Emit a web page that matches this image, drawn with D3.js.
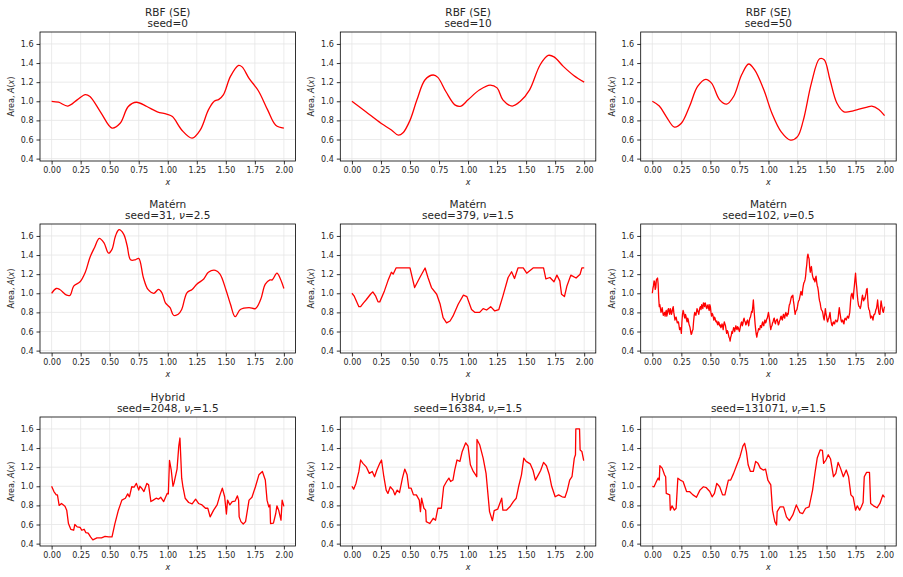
<!DOCTYPE html>
<html>
<head>
<meta charset="utf-8">
<script src="https://cdn.jsdelivr.net/npm/d3@7"></script>
<style>
  body { margin: 0; background: #fff; }
  svg { font-family: "DejaVu Sans", sans-serif; }
</style>
</head>
<body>
<div id="wrapper"></div>
<script>
// ---- values ----
const xTicks = [0, 0.25, 0.5, 0.75, 1.0, 1.25, 1.5, 1.75, 2.0];
const yTicks = [0.4, 0.6, 0.8, 1.0, 1.2, 1.4, 1.6];

const rbfSeed0 = [[0,1.0],[0.06,0.99],[0.14,0.95],[0.22,1.015],[0.29,1.07],[0.33,1.05],[0.42,0.89],
  [0.52,0.72],[0.59,0.77],[0.66,0.945],[0.73,0.99],[0.82,0.945],[0.91,0.89],[0.99,0.865],[1.04,0.84],
  [1.12,0.70],[1.21,0.615],[1.28,0.70],[1.35,0.91],[1.40,1.0],[1.44,1.02],[1.48,1.07],[1.54,1.26],
  [1.61,1.375],[1.64,1.36],[1.70,1.24],[1.78,1.11],[1.86,0.91],[1.93,0.75],[2.0,0.72]];

const rbfSeed10 = [[0,1.0],[0.12,0.89],[0.25,0.77],[0.34,0.70],[0.40,0.645],[0.44,0.67],[0.50,0.80],
  [0.56,1.015],[0.63,1.225],[0.70,1.275],[0.74,1.25],[0.81,1.10],[0.89,0.96],[0.94,0.95],[1.0,1.015],
  [1.10,1.12],[1.19,1.17],[1.25,1.14],[1.30,1.015],[1.38,0.95],[1.45,1.0],[1.53,1.12],[1.62,1.38],
  [1.69,1.48],[1.74,1.465],[1.82,1.365],[1.91,1.27],[2.0,1.2]];

const rbfSeed50 = [[0,1.0],[0.06,0.95],[0.12,0.84],[0.19,0.73],[0.25,0.77],[0.32,0.945],[0.39,1.155],
  [0.46,1.23],[0.51,1.19],[0.58,1.015],[0.64,0.97],[0.70,1.05],[0.77,1.28],[0.83,1.39],[0.88,1.33],
  [0.96,1.12],[1.03,0.875],[1.11,0.68],[1.19,0.593],[1.25,0.63],[1.30,0.80],[1.37,1.19],[1.44,1.445],
  [1.48,1.435],[1.53,1.225],[1.59,0.98],[1.65,0.89],[1.73,0.90],[1.85,0.94],[1.89,0.95],[1.95,0.915],[2.0,0.85]];

const maternSeed31 = [[0,1.0],[0.04,1.05],[0.07,1.04],[0.13,0.98],[0.16,0.98],[0.19,1.075],[0.245,1.12],
  [0.29,1.22],[0.33,1.375],[0.37,1.48],[0.41,1.575],[0.45,1.53],[0.49,1.42],[0.52,1.46],[0.55,1.60],
  [0.58,1.665],[0.62,1.62],[0.65,1.50],[0.68,1.35],[0.72,1.35],[0.75,1.365],[0.79,1.165],[0.83,1.04],
  [0.88,1.0],[0.92,1.04],[0.95,1.005],[0.98,0.90],[1.02,0.85],[1.05,0.77],[1.09,0.78],[1.12,0.83],
  [1.165,1.005],[1.21,1.04],[1.25,1.095],[1.31,1.15],[1.35,1.22],[1.41,1.24],[1.45,1.20],[1.50,1.04],
  [1.54,0.885],[1.58,0.755],[1.625,0.83],[1.70,0.85],[1.755,0.84],[1.80,0.935],[1.84,1.095],[1.88,1.14],
  [1.90,1.14],[1.94,1.21],[1.97,1.15],[2.0,1.05]];

const maternSeed379 = [[0,1.0],[0.02,0.97],[0.06,0.86],[0.075,0.86],[0.10,0.90],[0.125,0.935],[0.16,0.99],
  [0.18,1.015],[0.205,0.97],[0.225,0.91],[0.24,0.91],[0.28,1.025],[0.31,1.13],[0.34,1.22],[0.355,1.20],
  [0.38,1.265],[0.50,1.265],[0.54,1.06],[0.585,1.165],[0.63,1.265],[0.655,1.165],[0.685,1.06],[0.73,0.99],
  [0.76,0.885],[0.785,0.745],[0.815,0.69],[0.845,0.71],[0.87,0.76],[0.915,0.885],[0.96,0.98],[0.99,0.965],
  [1.03,0.83],[1.06,0.80],[1.10,0.80],[1.13,0.84],[1.16,0.825],[1.195,0.86],[1.23,0.815],[1.265,0.83],
  [1.30,0.97],[1.345,1.165],[1.375,1.225],[1.40,1.155],[1.43,1.265],[1.475,1.265],[1.505,1.21],
  [1.55,1.255],[1.56,1.265],[1.65,1.265],[1.67,1.15],[1.705,1.165],[1.74,1.12],[1.765,1.19],[1.79,1.13],
  [1.805,0.99],[1.83,0.965],[1.85,1.07],[1.885,1.19],[1.93,1.16],[1.965,1.20],[1.98,1.265],[2.0,1.265]];

// seed=102, nu=0.5: values every 0.01 from 0 to 2
const maternSeed102 = [
  1.00,1.08,1.12,1.06,1.15,1.10,0.86,0.84,0.82,0.80,0.79,
  0.76,0.82,0.79,0.84,0.78,0.82,0.80,0.86,0.76,0.74,
  0.72,0.70,0.66,0.64,0.58,0.78,0.80,0.74,0.76,0.70,
  0.72,0.66,0.60,0.58,0.62,0.76,0.79,0.80,0.82,0.78,
  0.85,0.83,0.86,0.90,0.86,0.88,0.84,0.88,0.82,0.86,
  0.76,0.78,0.72,0.74,0.70,0.68,0.70,0.66,0.64,0.68,
  0.62,0.70,0.66,0.58,0.60,0.54,0.50,0.56,0.58,0.64,
  0.60,0.66,0.62,0.64,0.60,0.66,0.70,0.68,0.74,0.70,
  0.68,0.72,0.66,0.74,0.78,0.80,0.93,0.76,0.62,0.54,
  0.60,0.62,0.66,0.64,0.70,0.66,0.72,0.70,0.74,0.80,
  0.72,0.62,0.66,0.70,0.74,0.68,0.72,0.70,0.68,0.72,
  0.76,0.72,0.78,0.74,0.80,0.76,0.78,0.88,0.92,0.97,
  0.98,0.88,0.78,0.82,0.86,0.92,0.96,1.02,0.98,1.08,
  1.12,1.18,1.30,1.41,1.36,1.22,1.28,1.18,1.14,1.12,
  1.18,1.08,1.02,0.92,0.86,0.82,0.78,0.72,0.84,0.76,
  0.70,0.74,0.80,0.70,0.66,0.70,0.68,0.72,0.70,0.74,
  0.85,0.76,0.70,0.72,0.68,0.74,0.72,0.76,0.74,0.80,
  0.96,1.00,0.94,1.08,1.21,1.06,0.92,0.86,0.84,0.90,
  0.98,0.92,0.94,1.00,1.05,0.86,0.82,0.74,0.76,0.72,
  0.78,0.80,0.84,0.93,0.80,0.78,0.92,0.84,0.80,0.86];
// seed=102, nu=0.5: values at the half steps 0.005, 0.015, ... 1.995
const maternSeed102Mid = [
  1.05,1.13,1.04,1.14,1.16,0.95,0.88,0.80,0.85,0.77,
  0.80,0.80,0.76,0.83,0.80,0.84,0.78,0.84,0.80,0.72,
  0.75,0.69,0.70,0.62,0.63,0.70,0.82,0.76,0.78,0.72,
  0.74,0.68,0.64,0.57,0.61,0.70,0.80,0.77,0.84,0.80,
  0.82,0.86,0.88,0.84,0.89,0.90,0.85,0.87,0.84,0.88,
  0.80,0.79,0.75,0.75,0.71,0.71,0.67,0.69,0.67,0.65,
  0.66,0.67,0.68,0.62,0.61,0.57,0.53,0.54,0.60,0.61,
  0.63,0.64,0.63,0.65,0.62,0.63,0.69,0.66,0.72,0.71,
  0.67,0.71,0.69,0.71,0.75,0.81,0.86,0.84,0.68,0.57,
  0.58,0.63,0.62,0.66,0.68,0.67,0.70,0.69,0.73,0.77,
  0.76,0.66,0.65,0.69,0.73,0.70,0.71,0.73,0.67,0.71,
  0.75,0.73,0.76,0.75,0.78,0.77,0.79,0.84,0.89,0.95,
  0.96,0.92,0.82,0.81,0.83,0.90,0.93,0.99,0.99,1.04,
  1.11,1.14,1.25,1.38,1.38,1.27,1.26,1.22,1.16,1.15,
  1.16,1.12,1.06,0.96,0.90,0.83,0.81,0.74,0.78,0.79,
  0.72,0.73,0.77,0.74,0.67,0.69,0.68,0.71,0.71,0.71,
  0.80,0.80,0.72,0.72,0.69,0.72,0.73,0.74,0.75,0.77,
  0.88,0.99,0.96,1.02,1.15,1.12,0.98,0.88,0.86,0.86,
  0.95,0.94,0.95,0.97,1.04,0.94,0.83,0.78,0.76,0.74,
  0.76,0.78,0.83,0.88,0.86,0.78,0.86,0.88,0.81,0.84];

const hybridSeed2048 = [[0,1.0],[0.02,0.945],[0.04,0.91],[0.05,0.91],[0.065,0.80],[0.085,0.82],[0.115,0.79],
  [0.13,0.75],[0.145,0.61],[0.165,0.55],[0.19,0.54],[0.20,0.60],[0.22,0.575],[0.245,0.57],[0.26,0.54],
  [0.28,0.55],[0.295,0.515],[0.315,0.51],[0.335,0.47],[0.355,0.44],[0.39,0.46],[0.43,0.46],[0.46,0.475],
  [0.49,0.47],[0.52,0.47],[0.545,0.61],[0.575,0.75],[0.605,0.855],[0.635,0.875],[0.655,0.92],[0.67,0.89],
  [0.69,0.995],[0.71,0.99],[0.73,1.03],[0.75,0.96],[0.76,1.0],[0.775,0.98],[0.795,0.945],[0.82,1.03],
  [0.835,1.015],[0.855,0.84],[0.875,0.855],[0.90,0.875],[0.92,0.865],[0.94,0.885],[0.965,0.84],
  [0.995,0.925],[1.005,0.92],[1.015,1.27],[1.03,1.17],[1.045,1.0],[1.055,1.04],[1.08,1.18],[1.095,1.42],
  [1.105,1.505],[1.12,1.085],[1.13,1.0],[1.15,0.875],[1.18,0.83],[1.21,0.815],[1.24,0.865],[1.265,0.82],
  [1.295,0.805],[1.325,0.77],[1.345,0.77],[1.365,0.68],[1.395,0.75],[1.425,0.805],[1.45,0.91],[1.47,0.98],
  [1.49,0.89],[1.505,0.71],[1.515,0.855],[1.535,0.805],[1.555,0.84],[1.58,0.845],[1.60,0.9],[1.61,0.855],
  [1.615,0.68],[1.63,0.63],[1.65,0.605],[1.67,0.63],[1.70,0.855],[1.725,0.885],[1.755,0.995],[1.785,1.12],
  [1.815,1.155],[1.84,1.065],[1.855,0.855],[1.87,0.785],[1.88,0.805],[1.885,0.61],[1.91,0.615],[1.93,0.715],
  [1.94,0.795],[1.955,0.75],[1.975,0.645],[1.985,0.855],[2.0,0.79]];

const hybridSeed16384 = [[0,1.0],[0.015,0.97],[0.035,1.03],[0.06,1.155],[0.075,1.275],[0.095,1.24],[0.125,1.2],
  [0.15,1.135],[0.175,1.155],[0.195,1.10],[0.215,1.17],[0.24,1.24],[0.255,1.275],[0.275,1.10],[0.295,0.96],
  [0.31,0.925],[0.33,0.995],[0.355,0.96],[0.37,0.91],[0.39,0.96],[0.41,0.935],[0.435,1.085],[0.455,1.18],
  [0.475,1.12],[0.49,0.98],[0.51,0.98],[0.53,0.91],[0.555,0.91],[0.58,0.855],[0.59,0.735],[0.60,0.875],
  [0.62,0.77],[0.635,0.75],[0.64,0.63],[0.67,0.61],[0.70,0.665],[0.72,0.645],[0.74,0.77],[0.77,0.77],
  [0.79,0.995],[0.815,1.05],[0.835,1.085],[0.85,1.05],[0.87,1.065],[0.885,1.17],[0.905,1.275],[0.93,1.26],
  [0.95,1.365],[0.98,1.455],[1.0,1.42],[1.02,1.225],[1.045,1.155],[1.065,1.12],[1.075,1.10],[1.077,1.49],
  [1.10,1.435],[1.13,1.295],[1.155,1.135],[1.185,0.735],[1.21,0.64],[1.225,0.745],[1.255,0.76],[1.29,0.875],
  [1.30,0.75],[1.33,0.75],[1.36,0.785],[1.39,0.84],[1.415,0.875],[1.435,0.995],[1.46,1.12],[1.48,1.295],
  [1.50,1.26],[1.535,1.235],[1.56,1.165],[1.58,1.065],[1.605,1.12],[1.625,1.165],[1.65,1.25],[1.675,1.215],
  [1.70,1.12],[1.72,1.0],[1.75,0.89],[1.78,0.91],[1.81,0.89],[1.835,0.885],[1.855,0.96],[1.875,1.065],
  [1.895,1.10],[1.915,1.295],[1.925,1.33],[1.928,1.6],[1.96,1.6],[1.965,1.38],[1.98,1.365],[1.995,1.275],[2.0,1.275]];

const hybridSeed131071 = [[0,1.0],[0.015,0.995],[0.035,1.05],[0.05,1.085],[0.06,1.065],[0.065,1.215],[0.085,1.19],
  [0.105,1.12],[0.115,1.10],[0.12,0.925],[0.15,0.91],[0.155,0.75],[0.17,0.795],[0.19,0.75],[0.205,0.77],
  [0.22,1.085],[0.24,1.065],[0.265,1.05],[0.295,0.945],[0.32,0.945],[0.35,0.91],[0.38,0.885],[0.41,0.96],
  [0.44,0.995],[0.465,0.985],[0.495,0.945],[0.515,0.89],[0.535,0.925],[0.555,1.03],[0.58,0.995],[0.605,0.91],
  [0.625,0.91],[0.655,1.065],[0.675,1.065],[0.70,1.135],[0.725,1.215],[0.755,1.31],[0.78,1.42],[0.795,1.45],
  [0.81,1.365],[0.825,1.225],[0.845,1.155],[0.87,1.155],[0.89,1.26],[0.91,1.24],[0.93,1.19],[0.955,1.17],
  [0.975,1.18],[0.995,1.065],[1.02,1.015],[1.035,0.75],[1.055,0.63],[1.07,0.595],[1.075,0.735],[1.10,0.785],
  [1.13,0.785],[1.155,0.68],[1.18,0.64],[1.21,0.70],[1.24,0.805],[1.27,0.725],[1.295,0.715],[1.32,0.77],
  [1.35,0.785],[1.38,0.96],[1.40,1.135],[1.42,1.295],[1.445,1.38],[1.465,1.375],[1.475,1.24],[1.495,1.275],
  [1.515,1.33],[1.535,1.285],[1.56,1.1],[1.58,1.135],[1.60,1.25],[1.62,1.19],[1.645,1.10],[1.67,1.17],
  [1.69,1.10],[1.71,0.91],[1.73,0.885],[1.75,0.75],[1.765,0.795],[1.785,0.75],[1.80,0.785],[1.815,0.83],
  [1.825,1.10],[1.845,1.145],[1.87,1.145],[1.88,0.82],[1.905,0.795],[1.935,0.775],[1.96,0.82],[1.985,0.91],[2.0,0.885]];

// merge whole and half steps of the rough Matérn series into [x, y] pairs
const matern102Pairs = [];
maternSeed102.forEach((v, i) => {
  matern102Pairs.push([i * 0.01, v]);
  if (i < maternSeed102Mid.length) matern102Pairs.push([i * 0.01 + 0.005, maternSeed102Mid[i]]);
});

// ---- panels ----
const panels = [
  { kernel: 'RBF (SE)', seed: '0', nu: null, data: rbfSeed0, smooth: true },
  { kernel: 'RBF (SE)', seed: '10', nu: null, data: rbfSeed10, smooth: true },
  { kernel: 'RBF (SE)', seed: '50', nu: null, data: rbfSeed50, smooth: true },
  { kernel: 'Matérn', seed: '31', nu: '2.5', data: maternSeed31, smooth: true },
  { kernel: 'Matérn', seed: '379', nu: '1.5', data: maternSeed379, smooth: false },
  { kernel: 'Matérn', seed: '102', nu: '0.5', data: matern102Pairs, smooth: false },
  { kernel: 'Hybrid', seed: '2048', nu: '1.5', sub: 'r', data: hybridSeed2048, smooth: false },
  { kernel: 'Hybrid', seed: '16384', nu: '1.5', sub: 'r', data: hybridSeed16384, smooth: false },
  { kernel: 'Hybrid', seed: '131071', nu: '1.5', sub: 'r', data: hybridSeed131071, smooth: false },
];

const colLefts = [40, 340.3, 640.7];
const rowTops = [32, 224, 417];
const plotW = 255.5;
const plotH = 129;

const svg = d3.select('#wrapper')
  .append('svg')
  .attr('width', 903)
  .attr('height', 577);

const xScale = d3.scaleLinear().domain([-0.1, 2.1]).range([0, plotW]);
const yScale = d3.scaleLinear().domain([0.375, 1.725]).range([plotH, 0]);

const textColor = '#262626';

panels.forEach((p, i) => {
  const left = colLefts[i % 3];
  const top = rowTops[Math.floor(i / 3)];
  const g = svg.append('g').attr('transform', `translate(${left},${top})`);

  // grid
  g.append('g').selectAll('line').data(xTicks).join('line')
    .attr('x1', d => xScale(d)).attr('x2', d => xScale(d))
    .attr('y1', 0).attr('y2', plotH)
    .attr('stroke', '#e6e6e6').attr('stroke-width', 0.8);
  g.append('g').selectAll('line').data(yTicks).join('line')
    .attr('y1', d => yScale(d)).attr('y2', d => yScale(d))
    .attr('x1', 0).attr('x2', plotW)
    .attr('stroke', '#e6e6e6').attr('stroke-width', 0.8);

  // line
  const line = d3.line()
    .x(d => xScale(d[0]))
    .y(d => yScale(d[1]))
    .curve(p.smooth ? d3.curveCatmullRom.alpha(0.5) : d3.curveLinear);
  g.append('path')
    .datum(p.data)
    .attr('d', line)
    .attr('fill', 'none')
    .attr('stroke', '#ff0000')
    .attr('stroke-width', 1.3)
    .attr('stroke-linejoin', 'round');

  // axes
  const xAxis = g.append('g')
    .attr('transform', `translate(0,${plotH})`)
    .call(d3.axisBottom(xScale).tickValues(xTicks).tickFormat(d3.format('.2f')).tickSizeOuter(0).tickSize(3.5).tickPadding(3));
  const yAxis = g.append('g')
    .call(d3.axisLeft(yScale).tickValues(yTicks).tickFormat(d3.format('.1f')).tickSizeOuter(0).tickSize(3.5).tickPadding(3));
  [xAxis, yAxis].forEach(ax => {
    ax.select('.domain').remove();
    ax.selectAll('line').attr('stroke', '#000').attr('stroke-width', 0.8);
    ax.selectAll('text').attr('fill', textColor).style('font-size', '8px').style('font-family', '"DejaVu Sans", sans-serif');
  });

  // frame
  g.append('rect')
    .attr('width', plotW).attr('height', plotH)
    .attr('fill', 'none').attr('stroke', '#000').attr('stroke-width', 0.8);

  // title
  g.append('text')
    .attr('x', plotW / 2).attr('y', -16.5)
    .attr('text-anchor', 'middle')
    .attr('fill', textColor)
    .style('font-size', '10.5px')
    .text(p.kernel);
  const sub = g.append('text')
    .attr('x', plotW / 2).attr('y', -5.5)
    .attr('text-anchor', 'middle')
    .attr('fill', textColor)
    .style('font-size', '10.5px');
  if (p.nu === null) {
    sub.text(`seed=${p.seed}`);
  } else {
    sub.append('tspan').text(`seed=${p.seed}, `);
    sub.append('tspan').style('font-style', 'italic').text('ν');
    if (p.sub) {
      sub.append('tspan').attr('dy', 2).style('font-style', 'italic').style('font-size', '7.5px').text(p.sub);
      sub.append('tspan').attr('dy', -2).text(`=${p.nu}`);
    } else {
      sub.append('tspan').text(`=${p.nu}`);
    }
  }

  // axis labels
  g.append('text')
    .attr('x', plotW / 2).attr('y', plotH + 24)
    .attr('text-anchor', 'middle')
    .attr('fill', textColor)
    .style('font-size', '8px')
    .style('font-style', 'italic')
    .text('x');

  const yl = g.append('text')
    .attr('transform', `translate(-26,${plotH / 2}) rotate(-90)`)
    .attr('text-anchor', 'middle')
    .attr('fill', textColor)
    .style('font-size', '8px');
  yl.append('tspan').text('Area, ');
  yl.append('tspan').style('font-style', 'italic').text('A');
  yl.append('tspan').text('(');
  yl.append('tspan').style('font-style', 'italic').text('x');
  yl.append('tspan').text(')');
});
</script>
</body>
</html>
